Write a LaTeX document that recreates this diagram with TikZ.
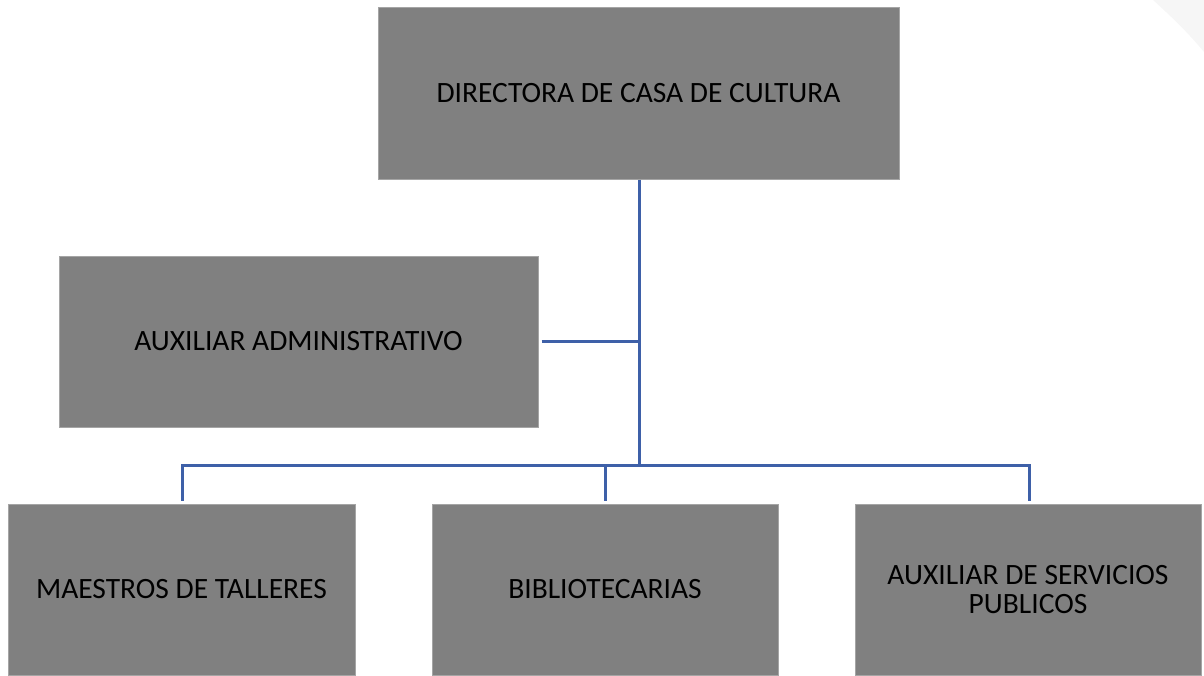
\documentclass[tikz,border=0pt]{standalone}
\usepackage{fontspec}
\setmainfont{Carlito}
\definecolor{boxgray}{RGB}{128,128,128}
\definecolor{boxedge}{RGB}{165,165,165}
\definecolor{linkblue}{RGB}{62,96,168}
\definecolor{faint}{RGB}{246,246,246}
\begin{document}
\begin{tikzpicture}[x=1pt,y=-1pt,
  orgbox/.style={rectangle, fill=boxgray, draw=boxedge, line width=1pt, inner sep=0pt,
    align=center, font=\fontsize{29.5}{29}\selectfont, text=black},
  link/.style={draw=linkblue, line width=3pt}]
\useasboundingbox (0,0) rectangle (1204,675);
\fill[faint] (1153,0) .. controls (1175,20) and (1190,35) .. (1204,52) -- (1204,0) -- cycle;
\node[orgbox, minimum width=521pt, minimum height=172pt] (dir) at (638.5,93) {DIRECTORA DE CASA DE CULTURA};
\node[orgbox, minimum width=479pt, minimum height=171pt] (aux) at (298.5,341.5) {AUXILIAR ADMINISTRATIVO};
\node[orgbox, minimum width=347pt, minimum height=171pt] (mae) at (181.5,589.5) {MAESTROS DE TALLERES};
\node[orgbox, minimum width=346pt, minimum height=171pt] (bib) at (605,589.5) {BIBLIOTECARIAS};
\node[orgbox, minimum width=346pt, minimum height=171pt] (ser) at (1028,589.5) {AUXILIAR DE SERVICIOS\\PUBLICOS};
\coordinate (jmid) at (639,341.5);
\coordinate (jbot) at (639,465);
\coordinate (lft) at (182,465);
\coordinate (rgt) at (1029,465);
\coordinate (ctr) at (605,465);
\draw[link] (dir.south -| jbot) -- (jbot);
\draw[link, shorten <=3pt] (aux.east) -- (jmid);
\draw[link, line cap=rect] (lft) -- (rgt);
\draw[link, shorten >=3pt] (lft) -- (lft |- mae.north);
\draw[link, shorten >=3pt] (ctr) -- (ctr |- bib.north);
\draw[link, shorten >=3pt] (rgt) -- (rgt |- ser.north);
\end{tikzpicture}
\end{document}
